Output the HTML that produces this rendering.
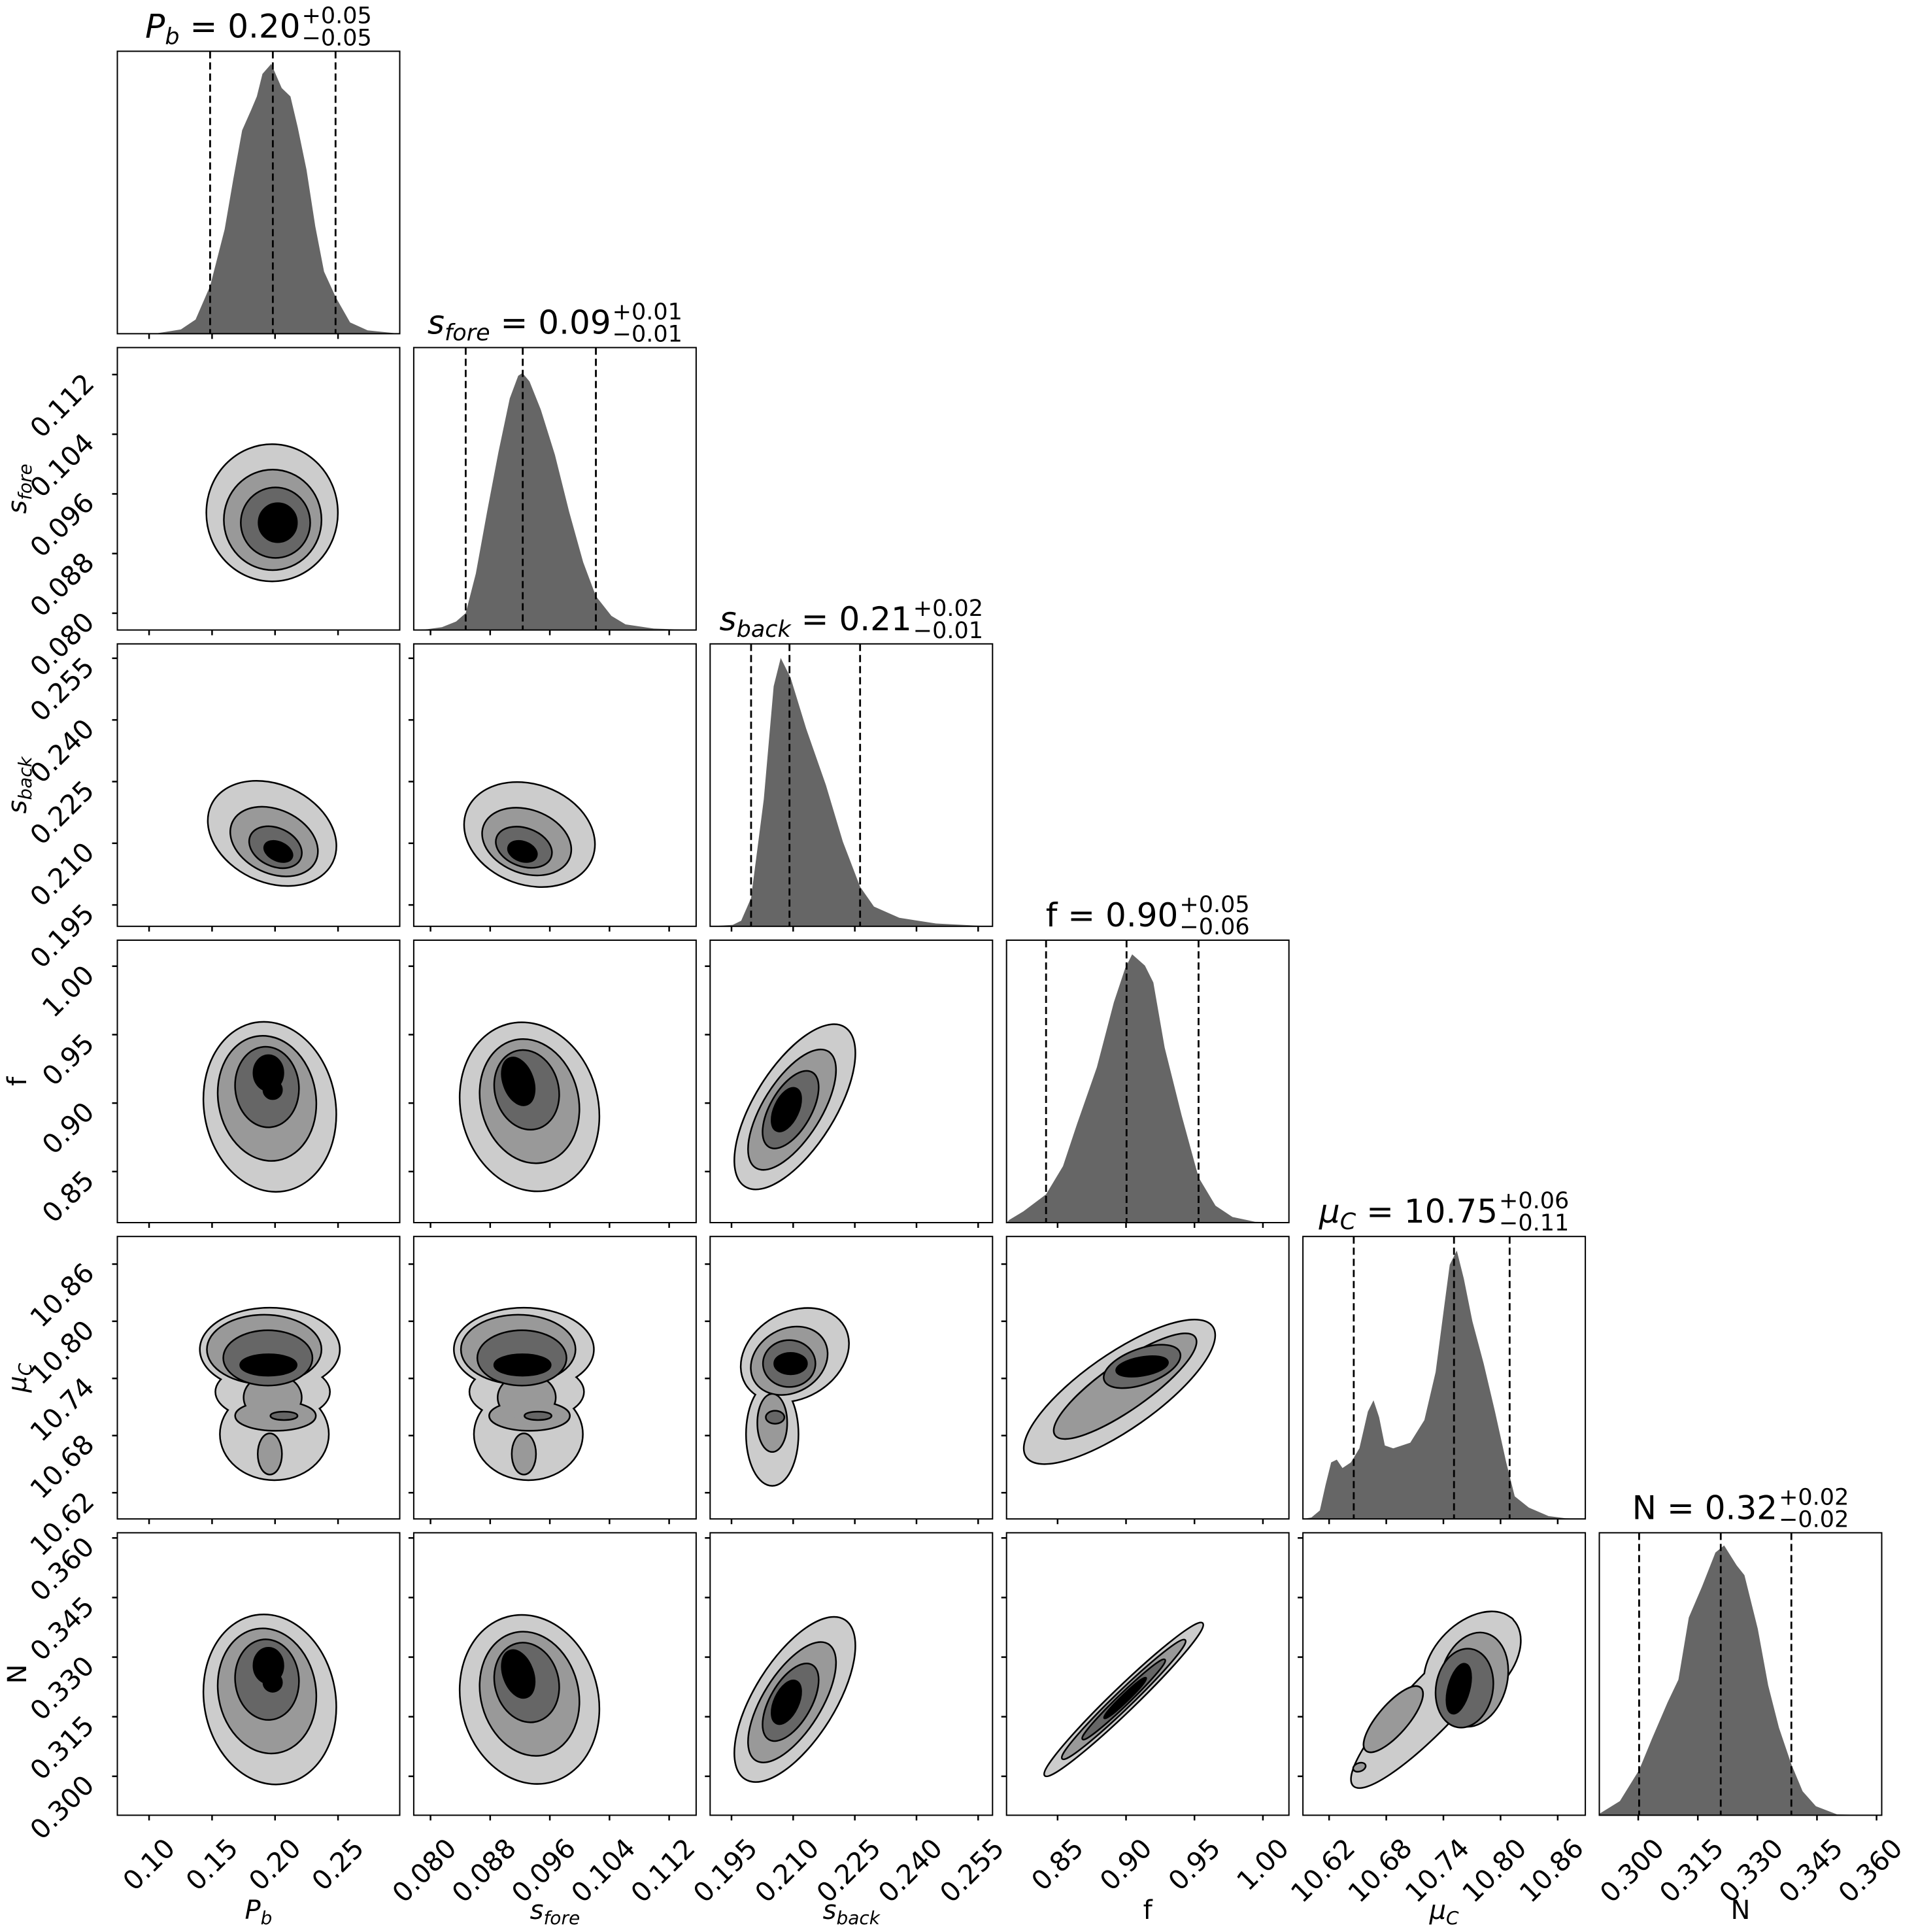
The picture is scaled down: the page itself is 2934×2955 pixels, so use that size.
<!DOCTYPE html>
<html><head><meta charset="utf-8">
<style>
html,body{margin:0;padding:0;background:#fff;}
svg{display:block;}
text{font-family:"DejaVu Sans","Liberation Sans",sans-serif;fill:#000;}
</style></head>
<body>
<svg id="fig" xmlns="http://www.w3.org/2000/svg" width="2934" height="2955" viewBox="0 0 2934 2955"></svg>
<script>
const NS="http://www.w3.org/2000/svg";
const svg=document.getElementById('fig');
const S=432,X0=179.5,DX=453.4,Y0=78.4,DY=453.2;
function el(tag,attrs,parent,txt){const e=document.createElementNS(NS,tag);for(const k in attrs)e.setAttribute(k,attrs[k]);if(txt!==undefined)e.textContent=txt;(parent||svg).appendChild(e);return e;}
const P=[
 {lo:0.0748,hi:0.299,ticks:[0.10,0.15,0.20,0.25],dec:2},
 {lo:0.07775,hi:0.11562,ticks:[0.080,0.088,0.096,0.104,0.112],dec:3},
 {lo:0.1898,hi:0.2585,ticks:[0.195,0.210,0.225,0.240,0.255],dec:3},
 {lo:0.8127,hi:1.019,ticks:[0.85,0.90,0.95,1.00],dec:2},
 {lo:10.5925,hi:10.889,ticks:[10.62,10.68,10.74,10.80,10.86],dec:2},
 {lo:0.2902,hi:0.3613,ticks:[0.300,0.315,0.330,0.345,0.360],dec:3}
];
const names=[
 [{t:"P",it:1},{t:"b",it:1,sub:1}],
 [{t:"s",it:1},{t:"fore",it:1,sub:1}],
 [{t:"s",it:1},{t:"back",it:1,sub:1}],
 [{t:"f"}],
 [{t:"μ",it:1},{t:"C",it:1,sub:1}],
 [{t:"N"}]
];
const titles=[["0.20","+0.05","−0.05"],["0.09","+0.01","−0.01"],["0.21","+0.02","−0.01"],["0.90","+0.05","−0.06"],["10.75","+0.06","−0.11"],["0.32","+0.02","−0.02"]];
const hists=[
 {p:[[0,0],[0.143,0.002],[0.225,0.015],[0.277,0.05],[0.329,0.17],[0.380,0.37],[0.411,0.55],[0.442,0.72],[0.473,0.79],[0.494,0.84],[0.514,0.92],[0.545,0.955],[0.582,0.87],[0.613,0.84],[0.639,0.73],[0.670,0.58],[0.701,0.38],[0.732,0.22],[0.773,0.13],[0.824,0.04],[0.886,0.012],[1,0]],d:[0.3285,0.5506,0.7727]},
 {p:[[0,0],[0.05,0.003],[0.10,0.01],[0.15,0.03],[0.184,0.06],[0.22,0.2],[0.26,0.42],[0.30,0.63],[0.34,0.82],[0.37,0.9],[0.385,0.91],[0.41,0.88],[0.45,0.78],[0.50,0.62],[0.55,0.42],[0.60,0.24],[0.645,0.12],[0.70,0.05],[0.75,0.02],[0.85,0.005],[1,0]],d:[0.184,0.386,0.645]},
 {p:[[0,0],[0.08,0.005],[0.11,0.02],[0.145,0.1],[0.19,0.45],[0.225,0.85],[0.25,0.95],[0.285,0.88],[0.34,0.7],[0.41,0.5],[0.47,0.3],[0.531,0.14],[0.58,0.07],[0.67,0.03],[0.80,0.01],[0.95,0.002],[1,0]],d:[0.145,0.281,0.531]},
 {p:[[0,0],[0.01,0.01],[0.06,0.04],[0.14,0.1],[0.20,0.2],[0.25,0.35],[0.32,0.55],[0.38,0.78],[0.42,0.9],[0.445,0.95],[0.49,0.91],[0.52,0.85],[0.56,0.62],[0.62,0.38],[0.68,0.16],[0.74,0.06],[0.8,0.02],[0.88,0.003],[1,0]],d:[0.14,0.425,0.68]},
 {p:[[0,0],[0.03,0.005],[0.06,0.03],[0.08,0.12],[0.10,0.2],[0.12,0.21],[0.14,0.18],[0.17,0.2],[0.2,0.25],[0.23,0.38],[0.25,0.42],[0.27,0.36],[0.29,0.26],[0.32,0.25],[0.38,0.27],[0.43,0.35],[0.47,0.52],[0.50,0.75],[0.52,0.9],[0.545,0.95],[0.57,0.85],[0.60,0.7],[0.64,0.55],[0.68,0.38],[0.72,0.2],[0.75,0.08],[0.8,0.04],[0.87,0.01],[0.93,0.002],[1,0]],d:[0.18,0.535,0.732]},
 {p:[[0,0.005],[0.073,0.05],[0.141,0.16],[0.186,0.27],[0.242,0.40],[0.280,0.48],[0.317,0.70],[0.364,0.81],[0.411,0.93],[0.442,0.955],[0.486,0.885],[0.514,0.85],[0.561,0.66],[0.598,0.46],[0.636,0.31],[0.68,0.18],[0.72,0.085],[0.767,0.032],[0.842,0.003],[1,0]],d:[0.141,0.43,0.68]}
];
const fLike0=[[0,.54,.59,.23,.3,-10],[1,.53,.56,.17,.22,-10],[2,.53,.52,.11,.14,-5],[3,.535,.47,.05,.06,0],[3,.55,.53,.03,.03,0]];
const fLike1=[[0,.41,.59,.24,.3,-15],[1,.41,.57,.17,.22,-15],[2,.40,.53,.11,.14,-15],[3,.37,.50,.05,.085,-20]];
const fLike2=[[0,.30,.59,.33,.14,-58],[1,.29,.6,.24,.1,-58],[2,.285,.6,.15,.07,-60],[3,.27,.6,.08,.04,-65]];
function muLike(dx){return [[0,.54+dx,.40,.245,.145,0],[0,.556+dx,.70,.19,.16,0],[0,.55+dx,.55,.2,.1,0],
 [1,.52+dx,.40,.2,.12,0],[1,.56+dx,.635,.14,.05,0],[1,.54+dx,.77,.04,.07,0],[1,.55+dx,.57,.1,.08,0],
 [2,.533+dx,.43,.155,.095,0],[2,.59+dx,.635,.045,.012,0],[3,.535+dx,.455,.097,.035,0]];}
const C={
 "1,0":[[0,.548,.585,.23,.24,0],[1,.55,.61,.17,.175,0],[2,.56,.62,.12,.122,0],[3,.568,.62,.065,.066,0]],
 "2,0":[[0,.548,.671,.235,.17,25],[1,.555,.70,.16,.11,25],[2,.56,.72,.095,.065,25],[3,.57,.735,.05,.03,25]],
 "2,1":[[0,.41,.675,.235,.175,20],[1,.40,.70,.16,.11,20],[2,.39,.72,.1,.065,20],[3,.385,.735,.05,.032,20]],
 "3,0":fLike0,"3,1":fLike1,"3,2":fLike2,
 "4,0":muLike(0),"4,1":muLike(-0.15),
 "4,2":[[0,.30,.42,.2,.15,-30],[0,.22,.70,.09,.18,0],[1,.28,.44,.14,.11,-30],[1,.22,.66,.05,.1,0],[2,.28,.45,.09,.08,0],[2,.23,.64,.03,.02,0],[3,.285,.45,.055,.035,0]],
 "4,3":[[0,.4,.55,.4,.13,-35],[1,.42,.53,.3,.08,-35],[2,.48,.46,.14,.06,-20],[3,.48,.46,.09,.03,-10]],
 "5,0":fLike0,"5,1":fLike1,"5,2":fLike2,
 "5,3":[[0,.415,.59,.386,.04,-44],[1,.415,.59,.3,.028,-44],[2,.415,.59,.2,.018,-44],[3,.42,.585,.1,.01,-44]],
 "5,4":[[0,.46,.6,.406,.09,-46.5],[0,.6,.45,.2,.13,-45],[1,.605,.52,.115,.167,15],[1,.32,.66,.145,.05,-49],[1,.2,.83,.02,.012,-20],[2,.572,.55,.098,.138,10],[3,.552,.552,.035,.088,15]]
};
const cols=["#cccccc","#999999","#666666","#000000"];
function X(c){return X0+DX*c;} function Y(r){return Y0+DY*r;}
function mathText(parent,parts,size,attrs){
 const t=el('text',Object.assign({'font-size':size},attrs),parent);
 let shifted=false;
 parts.forEach(p=>{const ts=el('tspan',{},t,p.t);
  if(p.it)ts.setAttribute('font-style','italic');
  if(p.sub){ts.setAttribute('font-size',size*0.7);ts.setAttribute('dy',size*0.2);shifted=true;}
  else if(shifted){ts.setAttribute('dy',-size*0.2);shifted=false;}});
 return t;}
for(let r=0;r<6;r++){
 for(let c=0;c<=r;c++){
  const x=X(c),y=Y(r);
  const g=el('g',{transform:`translate(${x},${y})`});
  if(r===c){
   const h=hists[r];
   let d=`M0,${S}`;h.p.forEach(q=>{d+=` L${(q[0]*S).toFixed(1)},${(S-q[1]*S).toFixed(1)}`;});d+=` L${S},${S} Z`;
   el('path',{d:d,fill:'#666666',stroke:'none'},g);
   h.d.forEach(v=>el('line',{x1:v*S,x2:v*S,y1:0,y2:S,stroke:'#000','stroke-width':2.8,'stroke-dasharray':'11,6'},g));
  } else {
   const bl=C[r+','+c]||[];
   for(let L=0;L<4;L++){
    const bs=bl.filter(b=>b[0]===L);
    ['stroke','fill'].forEach(pass=>{
     bs.forEach(b=>{el('ellipse',{cx:b[1]*S,cy:b[2]*S,rx:b[3]*S,ry:b[4]*S,transform:`rotate(${b[5]} ${b[1]*S} ${b[2]*S})`,
      fill:cols[L],stroke:pass==='stroke'?'#000':'none','stroke-width':pass==='stroke'?5:0},g);});
    });
   }
  }
  el('rect',{x:0,y:0,width:S,height:S,fill:'none',stroke:'#000','stroke-width':2},g);
  const px=P[c];
  px.ticks.forEach(v=>{const tx=(v-px.lo)/(px.hi-px.lo)*S;
   el('line',{x1:tx,x2:tx,y1:S,y2:S+8,stroke:'#000','stroke-width':2.5},g);
   if(r===5){el('text',{'font-size':41,'text-anchor':'end',transform:`translate(${tx+42},${S+53}) rotate(-45)`},g,v.toFixed(px.dec));}
  });
  if(r!==c){
   const py=P[r];
   py.ticks.forEach(v=>{const ty=(py.hi-v)/(py.hi-py.lo)*S;
    el('line',{x1:-8,x2:0,y1:ty,y2:ty,stroke:'#000','stroke-width':2.5},g);
    if(c===0){el('text',{'font-size':41,'text-anchor':'end',transform:`translate(-33,${ty+16}) rotate(-45)`},g,v.toFixed(py.dec));}
   });
  }
 }
}
for(let i=0;i<6;i++){
 mathText(svg,names[i],40,{'text-anchor':'middle',x:X(i)+S/2,y:2935});
 if(i>0){mathText(svg,names[i],40,{'text-anchor':'middle',transform:`translate(40,${Y(i)+S/2}) rotate(-90)`});}
}
for(let i=0;i<6;i++){
 const g=el('g',{});
 const parts=names[i].concat([{t:" = "+titles[i][0]}]);
 const t=mathText(g,parts,50,{x:0,y:0});
 const w=t.getComputedTextLength();
 const a=el('text',{'font-size':35,x:w+2,y:-22},g,titles[i][1]);
 const b=el('text',{'font-size':35,x:w+2,y:12},g,titles[i][2]);
 const tw=w+2+Math.max(a.getComputedTextLength(),b.getComputedTextLength());
 g.setAttribute('transform',`translate(${X(i)+S/2-tw/2},${Y(i)-21})`);
}
</script>
</body></html>
